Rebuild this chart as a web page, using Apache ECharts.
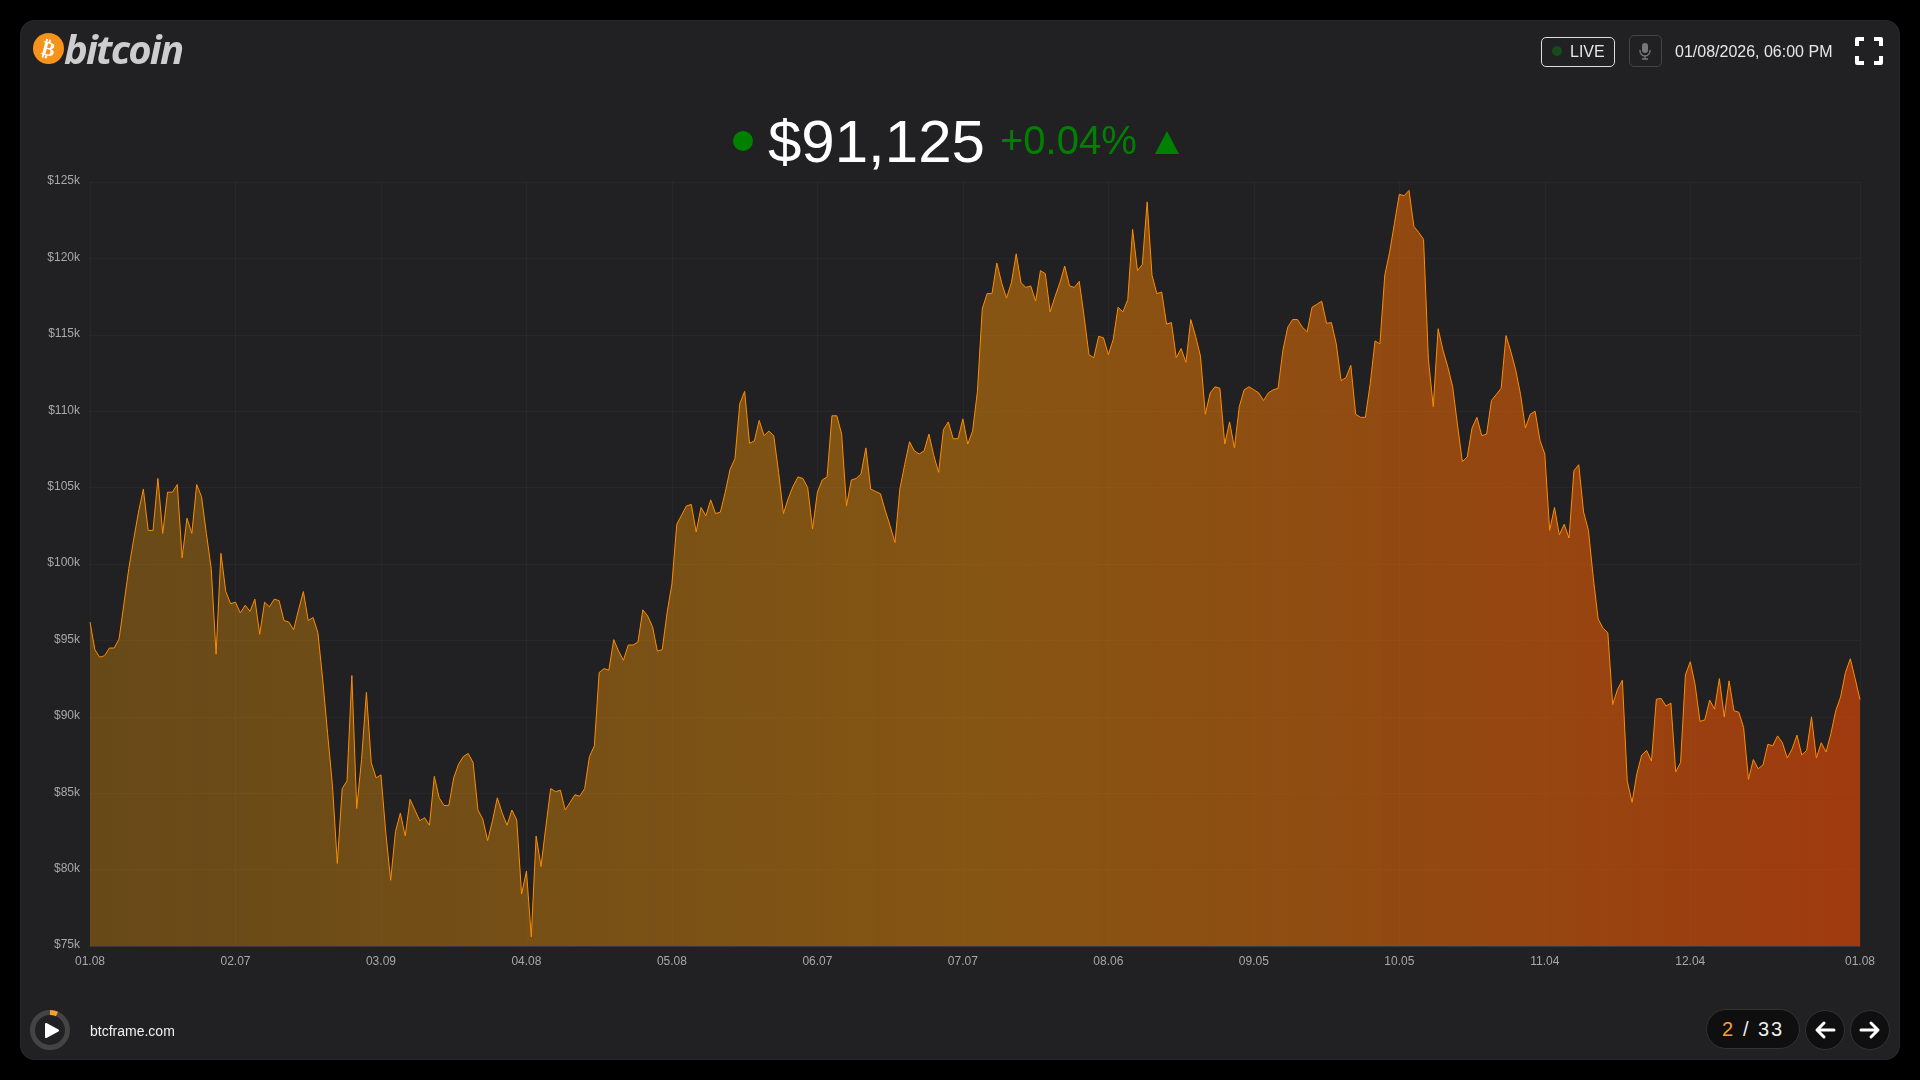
<!DOCTYPE html>
<html>
<head>
<meta charset="utf-8">
<title>bitcoin</title>
<script src="https://cdn.jsdelivr.net/npm/echarts@6/dist/echarts.min.js"></script>
<style>
  html, body { margin: 0; padding: 0; width: 1920px; height: 1080px; background: #000; overflow: hidden; font-family: "Liberation Sans", Arial, sans-serif; }
  #card { position: absolute; left: 20px; top: 20px; width: 1878px; height: 1038px; background: #212123; border: 1px solid #272729; border-radius: 14px; }
  #chart { position: absolute; left: 0; top: 0; width: 1920px; height: 1080px; }
  .abs { position: absolute; white-space: nowrap; }
</style>
</head>
<body>
<div id="card"></div>
<div id="chart"></div>

<!-- logo -->
<svg class="abs" style="left:32px;top:32px" width="34" height="34">
  <circle cx="16.5" cy="16.5" r="15.5" fill="#f7931a"/>
  <text x="16.5" y="23.5" text-anchor="middle" font-family="DejaVu Sans" font-weight="bold" font-size="20" fill="#fff" transform="rotate(14 16.5 16.5)">₿</text>
</svg>
<div class="abs" style="left:64px;top:21px;font:italic 700 40px 'Open Sans';letter-spacing:-1.8px;color:#cdcdcd">bitcoin</div>

<!-- top right -->
<div class="abs" style="left:1541px;top:37px;width:72px;height:28px;border:1px solid #ddd;border-radius:5px"></div>
<div class="abs" style="left:1552px;top:46px;width:10px;height:10px;border-radius:50%;background:#184a1c"></div>
<div class="abs" style="left:1570px;top:42px;font-size:16px;line-height:19px;color:#e6e6e6">LIVE</div>
<div class="abs" style="left:1629px;top:35px;width:31px;height:30px;border:1px solid #444;border-radius:5px"></div>
<svg class="abs" style="left:1637px;top:42px" width="16" height="18">
  <rect x="5" y="1" width="6" height="10" rx="3" fill="#777"/>
  <path d="M3 8 v1 a5 5 0 0 0 10 0 v-1" fill="none" stroke="#777" stroke-width="1.3"/>
  <path d="M8 14 v3 M5 17 h6" stroke="#777" stroke-width="1.3"/>
</svg>
<div class="abs" style="left:1675px;top:42px;font-size:16px;line-height:19px;color:#e6e6e6">01/08/2026, 06:00 PM</div>
<svg class="abs" style="left:1855px;top:37px" width="28" height="28">
  <path d="M2 9 V2 H9 M19 2 H26 V9 M26 19 V26 H19 M9 26 H2 V19" fill="none" stroke="#fff" stroke-width="4" stroke-linejoin="round"/>
</svg>

<!-- price headline -->
<div class="abs" style="left:733px;top:131px;width:20px;height:20px;border-radius:50%;background:#008000"></div>
<div class="abs" style="left:768px;top:107px;font-size:60px;line-height:69px;color:#fff">$91,125</div>
<div class="abs" style="left:1000px;top:117px;font-size:40px;line-height:46px;color:#008000">+0.04%</div>
<svg class="abs" style="left:1155px;top:131px" width="24" height="24"><path d="M12 0 L24 23 H0 Z" fill="#008000"/></svg>

<!-- bottom left -->
<svg class="abs" style="left:30px;top:1010px" width="40" height="40">
  <circle cx="20" cy="20" r="17.5" fill="none" stroke="#444" stroke-width="5"/>
  <path d="M20 2.5 A17.5 17.5 0 0 1 27 4" fill="none" stroke="#f7a030" stroke-width="5"/>
  <path d="M16 14 L28 20.5 L16 27 Z" fill="#fff" stroke="#fff" stroke-width="2" stroke-linejoin="round"/>
</svg>
<div class="abs" style="left:90px;top:1023px;font-size:14px;line-height:17px;color:#f0f0f0">btcframe.com</div>

<!-- bottom right -->
<div class="abs" style="left:1706px;top:1009px;width:92px;height:38px;background:#0f0f10;border:1px solid #333;border-radius:20px"></div>
<div class="abs" style="left:1722px;top:1018px;font-size:20px;line-height:23px;letter-spacing:2px;color:#f7a030">2</div>
<div class="abs" style="left:1743px;top:1018px;font-size:20px;line-height:23px;color:#eee">/</div>
<div class="abs" style="left:1758px;top:1018px;font-size:20px;line-height:23px;letter-spacing:2px;color:#eee">33</div>
<svg class="abs" style="left:1805px;top:1010px" width="85" height="40">
  <circle cx="20" cy="20" r="19.5" fill="#0f0f10" stroke="#333"/>
  <circle cx="65" cy="20" r="19.5" fill="#0f0f10" stroke="#333"/>
  <path d="M29 20 H13 M19 13 L12 20 L19 27" fill="none" stroke="#fff" stroke-width="3" stroke-linecap="round" stroke-linejoin="round"/>
  <path d="M56 20 H72 M66 13 L73 20 L66 27" fill="none" stroke="#fff" stroke-width="3" stroke-linecap="round" stroke-linejoin="round"/>
</svg>

<script>
// prices in $k, one per day
const prices0 = [96.2, 94.4, 93.9, 94.0, 94.5, 94.5, 95.1, 97.4, 99.7, 101.6, 103.4, 104.9, 102.2, 102.2, 105.6, 102.0, 104.7, 104.7, 105.2, 100.4,
  103.0, 102.0, 105.2, 104.4, 102.0, 99.7, 94.1, 100.7, 98.2, 97.4, 97.5, 96.8, 97.3, 96.9, 97.7, 95.4, 97.5, 97.2, 97.7, 97.6,
  96.3, 96.2, 95.7, 97.0, 98.2, 96.3, 96.5, 95.5, 92.4, 88.9, 85.5, 80.4, 85.3, 85.8, 92.7, 84.0, 87.2, 91.6, 87.0, 86.0,
  86.2, 82.4, 79.3, 82.5, 83.7, 82.2, 84.6, 83.9, 83.2, 83.4, 82.9, 86.1, 84.7, 84.2, 84.2, 86.0, 86.9, 87.4, 87.6, 87.0,
  83.9, 83.3, 81.9, 83.2, 84.7, 83.7, 82.9, 83.9, 83.25, 78.4, 79.9]
const prices1 = [75.6, 82.2, 80.2, 82.8, 85.3, 85.1, 85.2, 83.9, 84.4, 84.9, 84.8, 85.3, 87.4, 88.1, 92.9, 93.15, 93.05, 95.05, 94.3, 93.7,
  94.7, 94.7, 94.9, 97.0, 96.6, 95.9, 94.3, 94.4, 96.8, 98.7, 102.6, 103.2, 103.8, 103.9, 102.1, 103.7, 103.15, 104.2, 103.3, 103.4,
  104.7, 106.2, 106.9, 110.5, 111.3, 107.9, 108.05, 109.4, 108.4, 108.7, 108.4, 106.0, 103.3, 104.3, 105.1, 105.7, 105.6, 105.0, 102.3, 104.7,
  105.5, 105.7, 109.7, 109.7, 108.5, 103.8, 105.5, 105.6, 105.9, 107.6, 104.9, 104.75, 104.6, 103.5, 102.5, 101.4, 104.9, 106.5, 108.0, 107.4,
  107.2, 107.4, 108.5, 107.1, 106.0, 108.8, 109.3, 108.2, 108.2, 109.5, 107.85, 108.7]
const prices2 = [111.3, 116.7, 117.7, 117.7, 119.7, 118.4, 117.4, 118.4, 120.3, 118.4, 118.1, 118.2, 117.2, 119.2, 119.0, 116.5, 117.5, 118.4, 119.5, 118.2,
  118.1, 118.5, 116.2, 113.7, 113.5, 114.9, 114.8, 113.7, 114.7, 116.8, 116.5, 117.3, 121.9, 119.2, 119.6, 123.7, 118.9, 117.7, 117.8, 115.7,
  115.8, 113.5, 114.1, 113.2, 116.0, 114.9, 113.6, 109.8, 111.2, 111.6, 111.5, 107.85, 109.3, 107.6, 110.3, 111.4, 111.6, 111.4, 111.2, 110.7,
  111.2, 111.4, 111.5, 114.0, 115.5, 116.0, 116.0, 115.5, 115.2, 116.8, 117.0, 117.2, 115.75, 115.8, 114.4, 112.0, 112.2, 113.0, 109.8, 109.6,
  109.6, 111.8, 114.6, 114.4, 118.9, 120.4, 122.3, 124.2, 124.1, 124.45]
const prices3 = [122.1, 121.7, 121.25, 113.4, 110.3, 115.4, 114.0, 112.9, 111.6, 109.1, 106.7, 107.0, 108.9, 109.6, 108.4, 108.5, 110.7, 111.1, 111.5, 114.95,
  113.9, 112.7, 111.1, 108.9, 109.8, 110.0, 108.1, 107.2, 102.2, 103.7, 101.9, 102.6, 101.7, 106.1, 106.5, 103.4, 102.2, 99.1, 96.4, 95.8,
  95.5, 90.8, 91.8, 92.4, 85.8, 84.4, 86.3, 87.5, 87.8, 87.1, 91.15, 91.2, 90.7, 90.9, 86.4, 87.0, 92.75, 93.6, 92.1, 89.7,
  89.8, 91.1, 90.5, 92.5, 90.0, 92.35, 90.4, 90.3, 89.3, 85.9, 87.2, 86.6, 86.85, 88.2, 88.1, 88.75, 88.3, 87.3, 87.9, 88.8,
  87.5, 87.8, 90.0, 87.3, 88.3, 87.7, 88.9, 90.4, 91.3, 92.9, 93.8, 92.5, 91.13]
const prices = [...prices0, ...prices1, ...prices2, ...prices3]

// x labels sit every 30 days, plus the closing day
const labelledDays = [0, 30, 60, 90, 120, 150, 180, 210, 240, 270, 300, 330, 365]

// one category per day from 2025-01-08, shown as MM.DD
const categories = prices.map((_, i) => {
  const d = new Date(Date.UTC(2025, 0, 8 + i))
  return String(d.getUTCMonth() + 1).padStart(2, '0') + '.' + String(d.getUTCDate()).padStart(2, '0')
})

const isLabelled = (i) => labelledDays.includes(i)

const chart = echarts.init(document.getElementById('chart'), null, { width: 1920, height: 1080 })
chart.setOption({
  animation: false,
  backgroundColor: 'transparent',
  grid: { left: 90, right: 60, top: 182, bottom: 134, containLabel: false },
  xAxis: {
    type: 'category',
    boundaryGap: false,
    data: categories,
    axisLine: { show: true, lineStyle: { color: '#3a3a3c', width: 1 } },
    axisTick: { show: false },
    axisLabel: {
      interval: isLabelled,
      color: '#a8a8a8',
      fontSize: 12,
      margin: 10,
      fontFamily: 'Liberation Sans',
    },
    splitLine: {
      show: true,
      interval: isLabelled,
      lineStyle: { color: 'rgba(255,255,255,0.03)', width: 1 },
    },
  },
  yAxis: {
    type: 'value',
    min: 75,
    max: 125,
    interval: 5,
    axisLine: { show: false },
    axisTick: { show: false },
    axisLabel: {
      color: '#a8a8a8',
      fontSize: 12,
      margin: 10,
      // labels sit a little above their gridline in the reference
      verticalAlign: 'bottom',
      lineHeight: 2,
      fontFamily: 'Liberation Sans',
      formatter: (v) => '$' + v + 'k',
    },
    splitLine: { show: true, lineStyle: { color: 'rgba(255,255,255,0.03)', width: 1 } },
  },
  series: [
    {
      type: 'line',
      data: prices,
      symbol: 'none',
      smooth: false,
      lineStyle: { color: '#ff8c00', width: 1 },
      areaStyle: {
        opacity: 1,
        color: {
          type: 'linear',
          x: 0,
          y: 0,
          x2: 1,
          y2: 0,
          colorStops: [
            { offset: 0, color: 'rgba(218,140,8,0.38)' },
            { offset: 0.5, color: 'rgba(234,138,4,0.5)' },
            { offset: 1, color: 'rgba(245,75,2,0.6)' },
          ],
        },
      },
    },
  ],
})
</script>
</body>
</html>
